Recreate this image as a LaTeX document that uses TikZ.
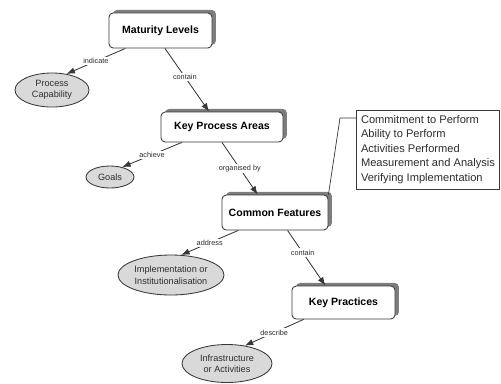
\documentclass[tikz,border=0pt]{standalone}
\usepackage{fontspec}
\setmainfont{Liberation Sans}
\usepackage{xcolor}
\definecolor{cmoval}{RGB}{217,217,217}
\definecolor{cmshadow}{RGB}{125,125,125}
\definecolor{cmline}{RGB}{55,55,55}
\definecolor{cmtext}{RGB}{45,45,45}
\usetikzlibrary{arrows.meta, positioning, shapes.geometric, shadows}

\begin{document}
\begin{tikzpicture}[x=0.025cm, y=-0.025cm,
  conceptbox/.style={draw=cmline, fill=white, line width=0.6pt, rounded corners=3pt,
    font=\fontsize{7.5}{9}\selectfont\bfseries,
    drop shadow={shadow xshift=2.8pt, shadow yshift=2.2pt, fill=cmshadow, opacity=1}},
  resultoval/.style={ellipse, draw=cmline, fill=cmoval, line width=0.6pt, inner sep=0pt,
    align=center, text=cmtext, font=\fontsize{6.5}{8.2}\selectfont},
  linkarrow/.style={draw=cmline, line width=0.6pt, -{Latex[length=6pt, width=4.5pt]}},
  linklabel/.style={fill=white, inner sep=1pt, text=cmtext, font=\fontsize{5.2}{6}\selectfont}]

\useasboundingbox (0,0) rectangle (501,383);

% --- Concepts (boxes) ---
\node[conceptbox, minimum width=2.575cm, minimum height=0.875cm] (ml) at (160.5,30.5) {Maturity Levels};
\node[conceptbox, minimum width=3.05cm, minimum height=0.75cm] (kpa) at (222,127) {Key Process Areas};
\node[conceptbox, minimum width=2.65cm, minimum height=0.875cm] (cf) at (275,212.5) {Common Features};
\node[conceptbox, minimum width=2.575cm, minimum height=0.825cm] (kp) at (343.5,302.5) {Key Practices};

% --- Results (ovals) ---
\node[resultoval, minimum width=1.85cm, minimum height=0.85cm] (pc) at (52,90) {Process\\Capability};
\node[resultoval, minimum width=1.2cm, minimum height=0.55cm] (goals) at (110,177) {Goals};
\node[resultoval, minimum width=2.65cm, minimum height=1.0cm] (impl) at (171,275) {Implementation or\\Institutionalisation};
\node[resultoval, minimum width=2.25cm, minimum height=0.95cm] (infra) at (227,363.5) {Infrastructure\\or Activities};

% --- Links ---
\draw[linkarrow] (ml.207.6) -- node[linklabel] {indicate} (pc.48);
\draw[linkarrow] (ml.-76) -- node[linklabel, pos=0.45] {contain} (kpa.130);
\draw[linkarrow] (kpa.201) -- node[linklabel] {achieve} (goals.39);
\draw[linkarrow] (kpa.south) -- node[linklabel] {organised by} (cf.134);
\draw[linkarrow] (cf.206) -- node[linklabel] {address} (impl.63);
\draw[linkarrow] (cf.-55.6) -- node[linklabel, pos=0.4] {contain} (kp.137);
\draw[linkarrow] (kp.203) -- node[linklabel] {describe} (infra.45);

% --- The five common features ---
\node[draw=cmline, fill=white, line width=0.6pt, align=left, text=cmtext,
      minimum width=3.55cm, minimum height=1.975cm, inner xsep=3pt,
      font=\fontsize{7.9}{10.3}\selectfont] (features) at (428,149.5)
      {Commitment to Perform\\Ability to Perform\\Activities Performed\\Measurement and Analysis\\Verifying Implementation};

\coordinate (bend) at (340,118);
\draw[cmline, line width=0.5pt] (cf.north east) -- (bend) -- (bend -| features.west);

\end{tikzpicture}
\end{document}
